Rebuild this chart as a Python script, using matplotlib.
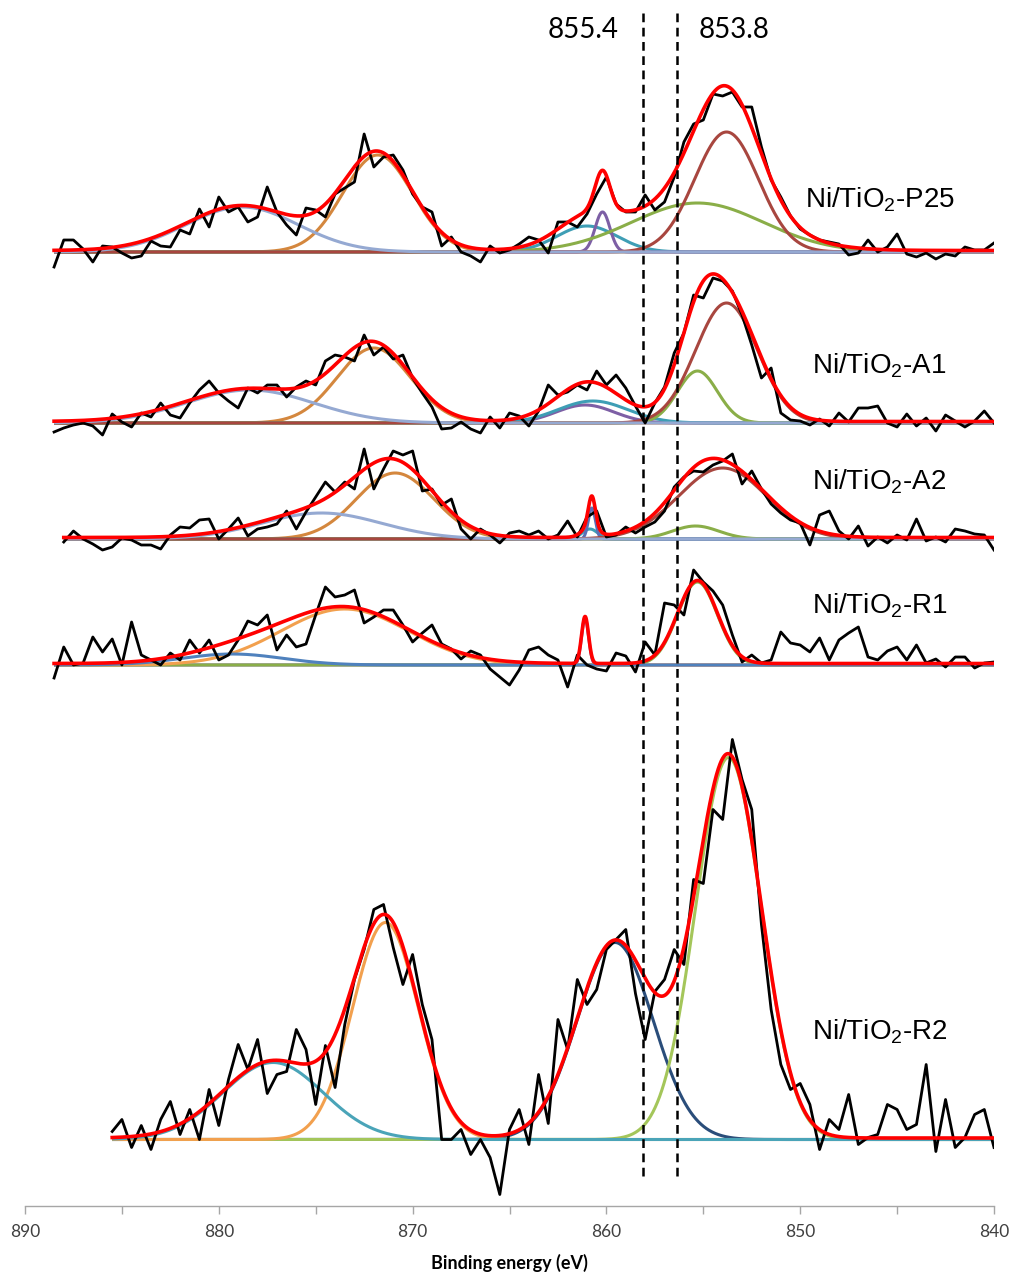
import numpy as np
import matplotlib
matplotlib.use("Agg")
import matplotlib.pyplot as plt

plt.rcParams['mathtext.fontset'] = 'custom'
plt.rcParams['mathtext.rm'] = 'Liberation Sans'
plt.rcParams['mathtext.it'] = 'Liberation Sans'

W, H = 1011, 1276
AXIS_ROW = 1206   # pixel row of the energy axis, y data = AXIS_ROW - row

names = ['P25', 'A1', 'A2', 'R1', 'R2']
base_row = [252, 423, 539, 665, 1139.5]     # baseline row of each spectrum
start_ev = [888.5, 888.5, 888.0, 888.5, 885.5]

# raw counts above the baseline, 0.5 eV steps from start_ev down to 840 eV
raw_p25 = [-15, 12, 12, 3, -10, 6, 5, -1, -6, -4, 11, 6, 5, 22, 18, 43, 25, 55, 40, 45,
           30, 35, 65, 40, 27, 17, 44, 42, 35, 58, 64, 70, 118, 85, 95, 97, 82, 58, 45, 40,
           6, 15, 0, -4, -10, 6, -1, 2, 8,
           15, 12, -1, 30, 30, 25, 38, 58, 75, 48, 40, 40, 57, 42, 50, 75, 110, 128, 132, 158,
           156, 160, 145, 145, 105, 72, 55, 36, 23, 17, 12, 10, 8, -3, -1, 12, 0, 5, 18, -2,
           -5, -1, -7, -2, -4, 5, 2, 2, 9]
raw_a1 = [-9, -5, -2, 0, -3, -12, 9, 1, -4, 10, 6, 20, 8, 5, 20, 33, 42, 30, 22, 15,
          35, 30, 38, 38, 26, 36, 42, 38, 62, 68, 66, 62, 88, 68, 76, 64, 68, 45, 30, 16,
          -6, -5, 1, -6, -10, 6, -5, 10, 7,
          -3, 12, 38, 28, 31, 38, 33, 52, 38, 48, 35, 17, 0, 20, 36, 70, 90, 128, 125, 145,
          142, 132, 108, 78, 45, 55, 10, 3, 2, -2, 4, -3, 10, 1, 15, 15, 17, 0, -4, 9,
          -3, 5, -8, 8, 2, -4, 2, 12, 0]
raw_a2 = [-3, 8, 0, -5, -11, -8, 1, -1, -6, -6, -10, 4, 12, 11, 19, 20, 0, 10, 21, 3,
          10, 12, 15, 28, 10, 27, 42, 57, 47, 57, 50, 90, 50, 70, 88, 84, 88, 48, 50, 34,
          40, 10, 0, 10, 4, -4, 6, 8,
          4, 8, 0, 4, 18, 2, 22, 28, 2, 4, 12, 6, 12, 17, 28, 52, 62, 68, 67, 74,
          78, 85, 55, 68, 50, 35, 26, 19, 16, -6, 24, 28, 8, 0, 13, -7, 2, -4, 4, -1,
          20, -2, 2, -3, 10, 8, 5, 4, -11]
raw_r1 = [-13, 18, 0, 2, 28, 13, 26, 0, 43, 10, 5, 0, 12, 5, 25, 12, 25, 5, 10, 25,
          44, 40, 50, 15, 30, 18, 21, 50, 78, 68, 70, 75, 42, 48, 55, 55, 40, 23, 32, 40,
          21, 16, 6, 14, 10, -4, -12, -20, -5,
          15, 18, 10, 5, -22, 10, 0, -4, -6, 12, 9, -7, 23, 10, 62, 60, 50, 95, 83, 74,
          60, 30, 3, 10, 2, 5, 33, 22, 20, 13, 27, 5, 25, 32, 38, 8, 5, 14, 18, 5,
          20, 2, 6, -2, 8, 8, -3, 2, 3]
raw_r2 = [8, 20, -8, 14, -10, 20, 38, 5, 30, 0, 50, 14, 60, 95, 70, 100, 46, 65, 68, 110,
          90, 35, 94, 52, 115, 160, 190, 230, 235, 192, 155, 185, 135, 100, 0, 0, 10, -15, 0, -18,
          -55, 10, 30, -5, 65, 16, 120,
          90, 160, 135, 150, 190, 200, 210, 146, 100, 148, 160, 190, 175, 260, 256, 330, 320, 400, 360, 330,
          215, 130, 75, 50, 56, 35, -10, 20, 10, 45, -5, 2, 5, 35, 30, 10, 15, 75, -12, 40,
          -8, 2, 25, 30, -8]
raw = [raw_p25, raw_a1, raw_a2, raw_r1, raw_r2]

# fitted components: (centre eV, height, sigma eV)
fit_p25 = [(878.8, 45, 2.9), (871.8, 97, 1.8), (861.0, 26, 1.55), (860.2, 40, 0.38),
           (855.3, 49, 3.4), (853.8, 120, 1.65)]
fit_a1 = [(878.4, 33, 3.3), (872.0, 75, 1.9), (861.1, 18, 1.5), (860.7, 22, 1.8),
          (855.3, 52, 1.03), (853.8, 120, 1.6)]
fit_a2 = [(874.7, 26, 3.1), (870.9, 66, 2.0), (860.85, 10, 0.4), (860.75, 31, 0.18),
          (855.4, 13, 1.2), (854.0, 71, 2.27)]
fit_r1 = [(879.3, 11, 2.6), (873.5, 56, 3.3), (861.1, 47, 0.18), (855.3, 83, 1.03)]
fit_r2 = [(877.2, 77, 2.6), (871.4, 217, 1.7), (859.55, 197, 1.96), (853.7, 382, 1.7)]
fits = [fit_p25, fit_a1, fit_a2, fit_r1, fit_r2]

# component colours, same order as the fits; last one drawn sits on the baseline
comp_colors = [
    ['#95A9D2', '#D4873E', '#3E9EB5', '#7D5FA5', '#8AAE48', '#A8463F'],
    ['#95A9D2', '#D4873E', '#7D5FA5', '#3E9EB5', '#8AAE48', '#A8463F'],
    ['#95A9D2', '#D4873E', '#3E9EB5', '#5A6FB8', '#8AAE48', '#A8463F'],
    ['#4F81BD', '#F2A04E', '#7D5FA5', '#8AAE48'],
    ['#4AA4B8', '#F2A04E', '#2A4D7A', '#A4C65A'],
]
draw_order = [[1, 2, 3, 4, 5, 0], [1, 2, 3, 4, 5, 0], [1, 2, 3, 4, 5, 0],
              [2, 3, 1, 0], [2, 3, 1, 0]]

peak_lines = [858.11, 856.36]
peak_labels = ['855.4', '853.8']

fig = plt.figure(figsize=(W / 100, H / 100), dpi=100)
ax = fig.add_axes([25 / W, (H - AXIS_ROW) / H, 969 / W, AXIS_ROW / H])
ax.set_xlim(890, 840)
ax.set_ylim(0, AXIS_ROW)


def gauss(x, c, h, s):
    return h * np.exp(-(x - c) ** 2 / (2 * s ** 2))


for i, name in enumerate(names):
    y0 = AXIS_ROW - base_row[i]
    xs = start_ev[i] - 0.5 * np.arange(len(raw[i]))
    xf = np.linspace(start_ev[i], 840, 2000)
    total = np.zeros_like(xf)
    for c, h, s in fits[i]:
        total += gauss(xf, c, h, s)
    for k in draw_order[i]:
        c, h, s = fits[i][k]
        ax.plot(xf, y0 + gauss(xf, c, h, s), color=comp_colors[i][k], lw=2.2, zorder=2,
                solid_capstyle='butt')
    ax.plot(xs, y0 + np.array(raw[i]), color='black', lw=2.0, zorder=3,
            solid_joinstyle='round')
    ax.plot(xf, y0 + 1.5 + total, color='#FF0000', lw=2.6, zorder=4)

# sample labels
label_pos = [(805, 208), (812, 374), (812, 490), (812, 613), (812, 1039)]
for name, (px, row) in zip(names, label_pos):
    ev = 890 - (px - 25) / 19.38
    ax.text(ev, AXIS_ROW - row, 'Ni/TiO$_2$-' + name, fontsize=20,
            family='Liberation Sans', ha='left', va='baseline', zorder=5)

# reference lines
ax.vlines(peak_lines, 30, 1193, colors='black', lw=1.8,
          linestyles=(0, (3.5, 2.2)), zorder=5)
ax.text(861.2, 1176, peak_labels[0], fontsize=20, family='Lato', ha='center', va='center')
ax.text(853.4, 1176, peak_labels[1], fontsize=20, family='Lato', ha='center', va='center')

for s in ['left', 'right', 'top']:
    ax.spines[s].set_visible(False)
ax.spines['bottom'].set_color('#A6A6A6')
ax.spines['bottom'].set_linewidth(1.0)
ax.set_yticks([])
ticks = np.arange(840, 891, 5)
ax.set_xticks(ticks)
ax.set_xticklabels([str(t) if t % 10 == 0 else '' for t in ticks],
                   family='Lato', fontsize=12.5, color='#404040')
ax.tick_params(axis='x', direction='out', length=6, width=1.0, color='#A6A6A6', pad=7)
ax.set_xlabel('Binding energy (eV)', family='Lato', fontweight='bold', fontsize=13,
              labelpad=10)

fig.savefig('out.png', dpi=100)
